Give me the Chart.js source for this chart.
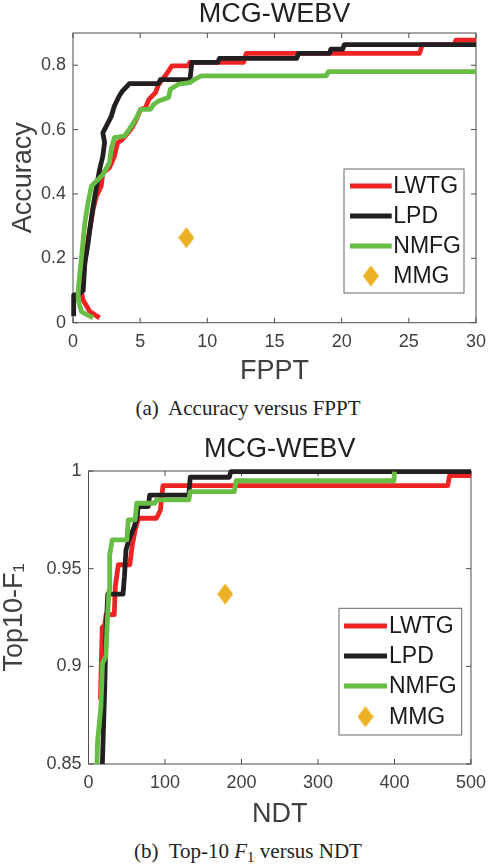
<!DOCTYPE html>
<html><head><meta charset="utf-8">
<script src="https://cdn.jsdelivr.net/npm/chart.js@4/dist/chart.umd.min.js"></script>
<style>
html,body{margin:0;padding:0;background:#fff;}
body{width:496px;height:866px;position:relative;overflow:hidden;}
#c1{position:absolute;left:0;top:0;}
#c2{position:absolute;left:0;top:425px;}
.cap{position:absolute;left:0;width:496px;text-align:center;font-family:"Liberation Serif","Times New Roman",serif;font-size:21px;line-height:24px;color:#222;}
.cap sub{font-size:15px;line-height:0;vertical-align:-4px;}
</style></head><body>
<canvas id="c1" width="496" height="390"></canvas>
<div class="cap" style="top:396px">(a)&nbsp; Accuracy versus FPPT</div>
<canvas id="c2" width="496" height="408"></canvas>
<div class="cap" style="top:839px">(b)&nbsp; Top-10 <i>F</i><sub>1</sub> versus NDT</div>
<script>
// ---------- data: (a) Accuracy versus FPPT ----------
const seriesNames = ['LWTG','LPD','NMFG','MMG'];
const fpptTicks = [0,5,10,15,20,25,30];
const fpptTickLabels = ['0','5','10','15','20','25','30'];
const accTicks = [0,0.2,0.4,0.6,0.8];
const accTickLabels = ['0','0.2','0.4','0.6','0.8'];

const lwtgFppt = [1.98,1.25,0.76,0.64,0.88,1.0,1.25,1.49,1.74,2.1,2.22,2.71,3.08,3.32,3.69,4.3,4.67,5.04,5.4,5.65,6.14,6.38,6.87,7.12,7.36,8.58,8.7,12.7,12.9,25.8,26.0,28.4,28.5,30];
const lwtgAcc  = [0.015,0.035,0.07,0.092,0.185,0.227,0.289,0.351,0.393,0.424,0.466,0.481,0.517,0.559,0.57,0.60,0.627,0.663,0.668,0.694,0.715,0.741,0.767,0.782,0.798,0.798,0.809,0.809,0.837,0.837,0.864,0.864,0.878,0.878];

const lpdFppt = [0.05,0.05,0.5,0.76,0.88,1.1,1.25,1.49,1.74,1.98,2.22,2.35,2.22,2.47,2.84,3.08,3.45,3.69,4.06,4.2,6.38,6.5,8.71,8.85,10.78,10.9,16.65,16.8,19.1,19.2,20.08,20.2,30];
const lpdAcc  = [0.02,0.086,0.09,0.10,0.186,0.24,0.29,0.36,0.42,0.476,0.517,0.56,0.59,0.61,0.64,0.673,0.705,0.72,0.736,0.743,0.743,0.755,0.755,0.809,0.809,0.821,0.821,0.837,0.837,0.85,0.85,0.864,0.864];

const nmfgFppt = [1.49,0.64,0.39,0.39,0.51,0.64,0.76,0.88,1.12,1.37,1.74,2.22,2.71,2.84,3.08,3.82,4.18,4.67,5.04,5.77,6.02,6.38,7.12,7.24,7.85,8.71,9.08,9.56,18.86,19.0,30];
const nmfgAcc  = [0.015,0.034,0.07,0.10,0.155,0.206,0.258,0.31,0.373,0.424,0.44,0.46,0.497,0.538,0.575,0.58,0.60,0.632,0.663,0.663,0.679,0.689,0.70,0.725,0.741,0.746,0.757,0.767,0.767,0.78,0.78];

const mmgFppt = [8.44];
const mmgAcc  = [0.264];

// ---------- data: (b) Top-10 F1 versus NDT ----------
const ndtTicks = [0,100,200,300,400,500];
const ndtTickLabels = ['0','100','200','300','400','500'];
const f1Ticks = [0.85,0.9,0.95,1];
const f1TickLabels = ['0.85','0.9','0.95','1'];

const lwtgNdt = [15.5,18,21,23,33.7,35,39,54,57,61.5,65.5,88.8,91,94,97.3,469.6,472,500];
const lwtgF1  = [0.883,0.92,0.921,0.9265,0.9265,0.9408,0.952,0.952,0.9616,0.9707,0.9758,0.9758,0.9775,0.980,0.9925,0.9925,0.9976,0.9976];

const lpdNdt = [18.1,21,23.1,25.2,45.1,47,49,52.8,59.1,63.3,65,78.2,80,131.2,133,184.1,186,500];
const lpdF1  = [0.85,0.886,0.92,0.937,0.937,0.946,0.9596,0.9647,0.9707,0.9758,0.9818,0.9818,0.9877,0.9877,0.9968,0.9968,0.9997,0.9997];

const nmfgNdt = [11,12,16.2,18.3,22.6,24.7,26.8,27.7,31,50.2,52,60.9,63,86.5,89,131.2,133,190.7,193,399.3,400];
const nmfgF1  = [0.85,0.8623,0.879,0.9016,0.905,0.9237,0.939,0.957,0.9647,0.9647,0.975,0.975,0.9835,0.9835,0.9852,0.9852,0.9894,0.9894,0.995,0.995,0.9997];

const mmgNdt = [178.7];
const mmgF1  = [0.937];

// ---------- styling ----------
const FF = '"Liberation Sans", Arial, Helvetica, sans-serif';
const C_RED = '#ee2424', C_BLACK = '#231f20', C_GREEN = '#68bd45', C_MMG = '#ebb023';
const LW = 4.8;

function pts(xs, ys){ return xs.map((x,i)=>({x:x, y:ys[i]})); }

function diamond(){
  const c = document.createElement('canvas'); c.width = 16; c.height = 21;
  const g = c.getContext('2d'); g.fillStyle = C_MMG;
  g.beginPath(); g.moveTo(8,0); g.lineTo(16,10.5); g.lineTo(8,21); g.lineTo(0,10.5); g.closePath(); g.fill();
  return c;
}
const DIA = diamond();

const boxPlugin = {
  id:'mbox',
  beforeDatasetsDraw(chart){
    const {ctx, chartArea:a, scales:{x, y}} = chart;
    ctx.save();
    ctx.strokeStyle = '#4d4d4d'; ctx.lineWidth = 1;
    ctx.strokeRect(a.left, a.top, a.right - a.left, a.bottom - a.top);
    ctx.beginPath();
    x.ticks.forEach(t => { const p = x.getPixelForValue(t.value);
      ctx.moveTo(p, a.bottom); ctx.lineTo(p, a.bottom - 5);
      ctx.moveTo(p, a.top); ctx.lineTo(p, a.top + 5); });
    y.ticks.forEach(t => { const p = y.getPixelForValue(t.value);
      ctx.moveTo(a.left, p); ctx.lineTo(a.left + 5, p);
      ctx.moveTo(a.right, p); ctx.lineTo(a.right - 5, p); });
    ctx.stroke();
    ctx.restore();
  }
};

const legendPlugin = {
  id:'mlegend',
  afterDraw(chart, args, o){
    const ctx = chart.ctx; ctx.save();
    const [x0,y0,x1,y1] = o.box;
    ctx.fillStyle = '#fff'; ctx.fillRect(x0, y0, x1-x0, y1-y0);
    ctx.strokeStyle = '#666'; ctx.lineWidth = 1; ctx.strokeRect(x0, y0, x1-x0, y1-y0);
    ctx.font = '23px ' + FF; ctx.textBaseline = 'middle'; ctx.textAlign = 'left'; ctx.fillStyle = '#1a1a1a';
    chart.data.datasets.forEach((ds, i) => {
      const yy = o.rows[i];
      if (ds.showLine === false) {
        ctx.drawImage(DIA, (o.lineX[0]+o.lineX[1])/2 - DIA.width/2, yy - DIA.height/2);
      } else {
        ctx.strokeStyle = ds.borderColor; ctx.lineWidth = ds.borderWidth;
        ctx.beginPath(); ctx.moveTo(o.lineX[0], yy); ctx.lineTo(o.lineX[1], yy); ctx.stroke();
      }
      ctx.fillText(ds.label, o.textX, yy + 1);
    });
    ctx.restore();
  }
};

function makeChart(id, cfg){
  const ds = [
    {label:seriesNames[0], data:pts(cfg.s[0][0], cfg.s[0][1]), borderColor:C_RED, order:3},
    {label:seriesNames[1], data:pts(cfg.s[1][0], cfg.s[1][1]), borderColor:C_BLACK, order:2},
    {label:seriesNames[2], data:pts(cfg.s[2][0], cfg.s[2][1]), borderColor:C_GREEN, order:1},
  ].map(d => Object.assign(d, {borderWidth:LW, pointRadius:0, tension:0, borderJoinStyle:'round', borderCapStyle:'butt', fill:false, clip:false}));
  ds.push({label:seriesNames[3], data:pts(cfg.s[3][0], cfg.s[3][1]), showLine:false, pointStyle:DIA, pointRadius:8, order:0, clip:false, backgroundColor:C_MMG, borderColor:C_MMG});

  return new Chart(document.getElementById(id), {
    type:'line',
    data:{datasets:ds},
    plugins:[boxPlugin, legendPlugin],
    options:{
      responsive:false, animation:false, devicePixelRatio:1,
      layout:{autoPadding:false, padding:{left:0, right:cfg.padRight, top:0, bottom:0}},
      plugins:{
        legend:{display:false}, tooltip:{enabled:false},
        title:{display:true, text:'MCG-WEBV', fullSize:false, color:'#222',
          font:{family:FF, size:27, weight:'normal', lineHeight:1}, padding:cfg.titlePad},
        mlegend:cfg.legend
      },
      scales:{
        x:{type:'linear', min:cfg.xr[0], max:cfg.xr[1],
          afterBuildTicks:s => { s.ticks = cfg.xt.map(v => ({value:v})); },
          afterFit:s => { s.height = cfg.xh; },
          grid:{display:false, drawTicks:false}, border:{display:false},
          ticks:{padding:10, color:'#404040', font:{family:FF, size:18, lineHeight:1}, maxRotation:0,
            callback:(v,i) => cfg.xl[i]},
          title:{display:true, text:cfg.xTitle, color:'#404040', font:{family:FF, size:27, lineHeight:1}, padding:{top:0, bottom:cfg.xTitlePad}}
        },
        y:{type:'linear', min:cfg.yr[0], max:cfg.yr[1],
          afterBuildTicks:s => { s.ticks = cfg.yt.map(v => ({value:v})); },
          afterFit:s => { s.width = cfg.yw; },
          grid:{display:false, drawTicks:false}, border:{display:false},
          ticks:{padding:7, color:'#404040', font:{family:FF, size:18, lineHeight:1},
            callback:(v,i) => cfg.yl[i]},
          title:{display:true, text:cfg.yTitle, color:'#404040', font:{family:FF, size:27, lineHeight:1}, padding:{top:cfg.yTitlePad, bottom:0}}
        }
      }
    }
  });
}

makeChart('c1', {
  s:[[lwtgFppt,lwtgAcc],[lpdFppt,lpdAcc],[nmfgFppt,nmfgAcc],[mmgFppt,mmgAcc]],
  xr:[0,30], yr:[0,0.9], xt:fpptTicks, xl:fpptTickLabels, yt:accTicks, yl:accTickLabels,
  xTitle:'FPPT', yTitle:'Accuracy', xh:67.3, yw:73, padRight:14,
  titlePad:{top:1.5, bottom:4.5}, xTitlePad:4.8, yTitlePad:10,
  legend:{box:[344,169,464,293], lineX:[350,391.7], textX:393.3, rows:[186,216,246,276]}
});

makeChart('c2', {
  s:[[lwtgNdt,lwtgF1],[lpdNdt,lpdF1],[nmfgNdt,nmfgF1],[mmgNdt,mmgF1]],
  xr:[0,500], yr:[0.85,1], xt:ndtTicks, xl:ndtTickLabels, yt:f1Ticks, yl:f1TickLabels,
  xTitle:'NDT', yTitle:'Top10-F\u2081', xh:69, yw:88.5, padRight:14.3,
  titlePad:{top:11.5, bottom:7.5}, xTitlePad:4.5, yTitlePad:1.5,
  legend:{box:[339,183.3,461.7,310], lineX:[344,387], textX:389, rows:[201,231,261,291.7]}
});
</script>
</body></html>
